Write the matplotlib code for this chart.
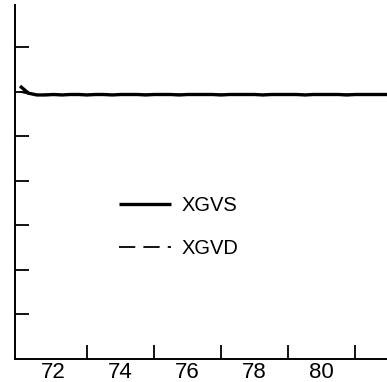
import matplotlib
matplotlib.use("Agg")
import matplotlib.pyplot as plt
from matplotlib.ticker import FixedLocator, FixedFormatter

plt.rcParams['font.family'] = ['Liberation Sans', 'DejaVu Sans']

# Quarterly observations, 1971.0 - 1982.0
year = [71.00, 71.25, 71.50, 71.75, 72.00, 72.25, 72.50, 72.75,
        73.00, 73.25, 73.50, 73.75, 74.00, 74.25, 74.50, 74.75,
        75.00, 75.25, 75.50, 75.75, 76.00, 76.25, 76.50, 76.75,
        77.00, 77.25, 77.50, 77.75, 78.00, 78.25, 78.50, 78.75,
        79.00, 79.25, 79.50, 79.75, 80.00, 80.25, 80.50, 80.75,
        81.00, 81.25, 81.50, 81.75, 82.00]
xgvs = [6.13, 5.97, 5.93, 5.93, 5.94, 5.93, 5.94, 5.94,
        5.93, 5.94, 5.94, 5.93, 5.94, 5.94, 5.94, 5.93,
        5.94, 5.94, 5.94, 5.93, 5.94, 5.94, 5.94, 5.94,
        5.93, 5.94, 5.94, 5.94, 5.94, 5.93, 5.94, 5.94,
        5.94, 5.94, 5.93, 5.94, 5.94, 5.94, 5.94, 5.93,
        5.94, 5.94, 5.94, 5.94, 5.94]
xgvd = [6.00, 5.96, 5.94, 5.94, 5.94, 5.94, 5.94, 5.94,
        5.94, 5.94, 5.94, 5.94, 5.94, 5.94, 5.94, 5.94,
        5.94, 5.94, 5.94, 5.94, 5.94, 5.94, 5.94, 5.94,
        5.94, 5.94, 5.94, 5.94, 5.94, 5.94, 5.94, 5.94,
        5.94, 5.94, 5.94, 5.94, 5.94, 5.94, 5.94, 5.94,
        5.94, 5.94, 5.94, 5.94, 5.94]

tick_years = [73, 75, 77, 79, 81]
label_years = [72, 74, 76, 78, 80]
tick_labels = ['72', '74', '76', '78', '80']
y_ticks = [1, 2, 3, 4, 5, 6, 7]

fig = plt.figure(figsize=(3.87, 3.82), dpi=100)
ax = fig.add_axes([15/387, 23/382, 372/387, 354/382])

ax.plot(year, xgvs, color='black', lw=2.4, solid_capstyle='butt', label='XGVS')
ax.plot(year, xgvd, color='black', lw=1.3, dashes=(9, 4.5), label='XGVD')

ax.set_xlim(70.85, 81.95)
ax.set_ylim(0, 7.95)

for s in ('top', 'right'):
    ax.spines[s].set_visible(False)
for s in ('left', 'bottom'):
    ax.spines[s].set_linewidth(1.4)

ax.xaxis.set_major_locator(FixedLocator(tick_years))
ax.xaxis.set_major_formatter(FixedFormatter([''] * len(tick_years)))
ax.xaxis.set_minor_locator(FixedLocator(label_years))
ax.xaxis.set_minor_formatter(FixedFormatter(tick_labels))
ax.tick_params(axis='x', which='major', direction='in', length=10, width=1.3)
ax.tick_params(axis='x', which='minor', length=0, labelsize=16, pad=2)

ax.set_yticks(y_ticks)
ax.set_yticklabels([])
ax.tick_params(axis='y', direction='in', length=10, width=1.3)

ax.legend(loc='center left', bbox_to_anchor=(0.28, 0.373), frameon=False,
          fontsize=14.5, handlelength=2.55, handletextpad=0.55, labelspacing=1.2,
          borderpad=0, borderaxespad=0)

fig.savefig('out.png', dpi=100)
